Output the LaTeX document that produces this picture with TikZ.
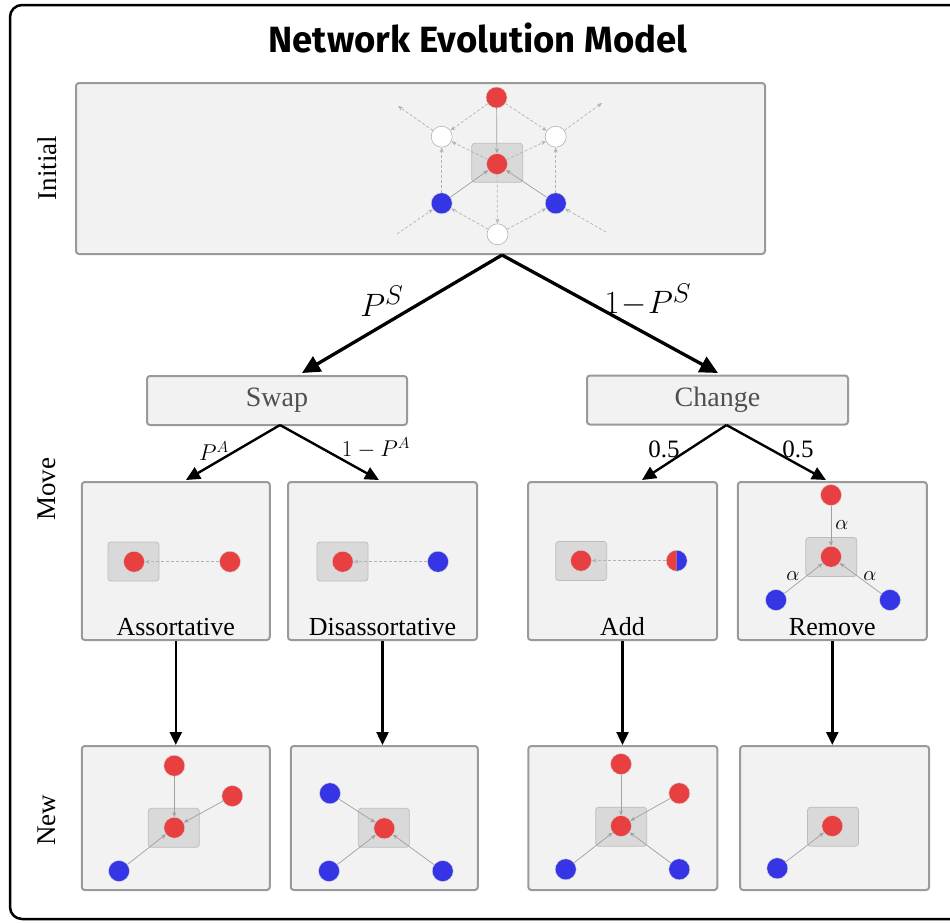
\documentclass[tikz,border=0pt]{standalone}
\usepackage{fontspec}
\setmainfont{Liberation Serif}
\newfontfamily\titlefont{Fira Sans}
\usetikzlibrary{arrows.meta}
\definecolor{nred}{HTML}{E84040}
\definecolor{nblue}{HTML}{3535E6}
\definecolor{panelfill}{HTML}{F2F2F2}
\definecolor{paneldraw}{HTML}{9A9A9A}
\definecolor{boxfill}{HTML}{D9D9D9}
\definecolor{boxdraw}{HTML}{BDBDBD}
\definecolor{edgegray}{HTML}{A0A0A0}
\definecolor{labgray}{HTML}{505050}
\begin{document}
\begin{tikzpicture}[x=1pt,y=-1pt,
  panel/.style={draw=paneldraw, fill=panelfill, line width=2pt, rounded corners=3pt, inner sep=0pt},
  ctr/.style={draw=boxdraw, fill=boxfill, line width=0.8pt, rounded corners=3pt, minimum width=51pt, minimum height=39pt, inner sep=0pt},
  vnode/.style={circle, draw=black!15, line width=0.4pt, minimum size=21pt, inner sep=0pt},
  rnode/.style={vnode, fill=nred},
  bnode/.style={vnode, fill=nblue},
  hnode/.style={circle, fill=white, draw=black!30, line width=0.6pt, minimum size=21pt, inner sep=0pt},
  sedge/.style={draw=edgegray, line width=0.7pt, -{Stealth[length=5pt,width=4pt]}},
  dedge/.style={sedge, draw=edgegray!80, dash pattern=on 3pt off 2pt},
  bigarrow/.style={line width=3.3pt, -{Triangle[length=18pt,width=17pt]}},
  midarrow/.style={line width=2.4pt, -{Triangle[length=14pt,width=13pt]}},
  downarrow/.style={line width=2.4pt, -{Triangle[length=13pt,width=12pt]}},
  rowlab/.style={rotate=90, font=\fontsize{27}{30}\selectfont},
  boxlab/.style={font=\fontsize{28}{32}\selectfont, text=labgray},
  panlab/.style={font=\fontsize{26}{30}\selectfont, anchor=base},
  plab/.style={font=\fontsize{24.88}{28}\selectfont, scale=1.3},
  slab/.style={font=\fontsize{20.74}{24}\selectfont, scale=1.1},
  hlab/.style={font=\fontsize{25}{28}\selectfont},
  alab/.style={font=\fontsize{20.74}{22}\selectfont}
]
\useasboundingbox (0,0) rectangle (950,922);
\draw[line width=2.5pt, rounded corners=12pt] (10,5) rectangle (964,919);

\node[font=\titlefont\bfseries\fontsize{36.5}{40}\selectfont] (title) at (478,38) {Network Evolution Model};

% row labels
\node[rowlab] (linit) at (47,168) {Initial};
\node[rowlab] (lmove) at (47,489) {Move};
\node[rowlab] (lnew) at (47,820) {New};

% ---------- Initial panel ----------
\node[panel, minimum width=689pt, minimum height=171pt] (init) at (420.5,168.5) {};
\node[ctr] (ibox) at (497.2,162.8) {};
\node[rnode] (itop) at (496.5,97.5) {};
\node[hnode] (ihl) at (441.7,136.7) {};
\node[hnode] (ihr) at (555.7,136.7) {};
\node[rnode] (ic) at (497,164) {};
\node[bnode] (ibl) at (441.7,203.3) {};
\node[bnode] (ibr) at (555.7,203.3) {};
\node[hnode] (ihb) at (497.5,234.3) {};
\coordinate (ofl) at (398,106);
\coordinate (ofr) at (602,103);
\coordinate (obl) at (397,234);
\coordinate (obr) at (606,232);
\draw[sedge] (itop) -- (ic);
\draw[sedge] (ibl) -- (ic);
\draw[sedge] (ibr) -- (ic);
\draw[dedge] (itop) -- (ihl);
\draw[dedge] (itop) -- (ihr);
\draw[dedge] (ihl) -- (ofl);
\draw[dedge] (ihr) -- (ofr);
\draw[dedge] (ic) -- (ihl);
\draw[dedge] (ic) -- (ihr);
\draw[dedge] (ibl) -- (ihl);
\draw[dedge] (ibr) -- (ihr);
\draw[dedge] (ic) -- (ihb);
\draw[dedge] (ihb) -- (ibl);
\draw[dedge] (ihb) -- (ibr);
\draw[dedge] (obl) -- (ibl);
\draw[dedge] (obr) -- (ibr);

% ---------- Swap / Change ----------
\node[panel, minimum width=260pt, minimum height=49pt, boxlab] (swap) at (277,400.5) {Swap};
\node[panel, minimum width=261pt, minimum height=49pt, boxlab] (change) at (717.5,400) {Change};
\coordinate (split) at (502,255);
\coordinate (tswap) at (302,373);
\coordinate (tchange) at (718,373);
\draw[bigarrow] (split) -- (tswap);
\draw[bigarrow] (split) -- (tchange);
\node[plab] (lps) at (382,301) {$P^S$};
\node[plab] (l1ps) at (648,300) {$1\!-\!P^S$};

% ---------- Move panels ----------
\node[panel, minimum width=188pt, minimum height=158pt] (assort) at (175.8,561) {};
\node[panel, minimum width=189pt, minimum height=158pt] (disass) at (382.5,561) {};
\node[panel, minimum width=189pt, minimum height=158pt] (add) at (622.5,561) {};
\node[panel, minimum width=189pt, minimum height=158pt] (remove) at (832.3,561) {};

\coordinate (sswap) at (280,425);
\coordinate (schange) at (726.5,425);
\coordinate (ta) at (186,480);
\coordinate (td) at (379,480);
\coordinate (tad) at (642,480);
\coordinate (tre) at (826,480);
\draw[midarrow] (sswap) -- (ta);
\draw[midarrow] (sswap) -- (td);
\draw[midarrow] (schange) -- (tad);
\draw[midarrow] (schange) -- (tre);
\node[slab] (lpa) at (214,451) {$P^A$};
\node[slab] (l1pa) at (376,448) {$1-P^A$};
\node[hlab] (lh1) at (664,449) {0.5};
\node[hlab] (lh2) at (798,449) {0.5};

% Assortative
\node[ctr] (abox) at (133.5,561.5) {};
\node[rnode] (ac) at (134,561.7) {};
\node[rnode] (ar) at (230,561.7) {};
\draw[dedge] (ar) -- (ac);
\node[panlab] (labA) at (175.8,635) {Assortative};

% Disassortative
\node[ctr] (dbox) at (342.5,561.5) {};
\node[rnode] (dc) at (342.7,561.7) {};
\node[bnode] (dr) at (438,561.7) {};
\draw[dedge] (dr) -- (dc);
\node[panlab] (labD) at (382.5,635) {Disassortative};

% Add
\node[ctr] (adbox) at (581.2,561) {};
\node[rnode] (adc) at (581,560.7) {};
\begin{scope}
  \clip (665,548) rectangle (676.7,574);
  \fill[nred] (676.7,560.7) circle (10.5pt);
\end{scope}
\begin{scope}
  \clip (676.7,548) rectangle (690,574);
  \fill[nblue] (676.7,560.7) circle (10.5pt);
\end{scope}
\node[vnode] (adr) at (676.7,560.7) {};
\draw[dedge] (adr) -- (adc);
\node[panlab] (labAd) at (622.5,635) {Add};

% Remove
\node[ctr] (rbox) at (831.3,557) {};
\node[rnode] (rtop) at (831,495) {};
\node[rnode] (rc) at (831,556.7) {};
\node[bnode] (rbl) at (776,600) {};
\node[bnode] (rbr) at (890,600) {};
\draw[sedge] (rtop) -- (rc);
\draw[sedge] (rbl) -- (rc);
\draw[sedge] (rbr) -- (rc);
\node[alab] (al1) at (842,525) {$\alpha$};
\node[alab] (al2) at (793,576) {$\alpha$};
\node[alab] (al3) at (870,576) {$\alpha$};
\node[panlab] (labR) at (832.3,635) {Remove};

% ---------- New panels ----------
\node[panel, minimum width=188pt, minimum height=144pt] (new1) at (175.8,818) {};
\node[panel, minimum width=187pt, minimum height=144pt] (new2) at (384.3,818) {};
\node[panel, minimum width=189pt, minimum height=144pt] (new3) at (622.8,818) {};
\node[panel, minimum width=189pt, minimum height=144pt] (new4) at (834.6,818) {};

\draw[downarrow] (assort.south) -- (assort.south |- new1.north);
\draw[downarrow] (disass.south) -- (disass.south |- new2.north);
\draw[downarrow] (add.south) -- (add.south |- new3.north);
\draw[downarrow] (remove.south) -- (remove.south |- new4.north);

% New 1
\node[ctr] (n1box) at (173.8,827.8) {};
\node[rnode] (n1top) at (174.3,765.7) {};
\node[rnode] (n1r) at (232.3,796) {};
\node[rnode] (n1c) at (174.3,827.7) {};
\node[bnode] (n1b) at (119,871) {};
\draw[sedge] (n1top) -- (n1c);
\draw[sedge] (n1r) -- (n1c);
\draw[sedge] (n1b) -- (n1c);

% New 2
\node[ctr] (n2box) at (383.8,827.8) {};
\node[bnode] (n2tl) at (330,793.3) {};
\node[rnode] (n2c) at (384.3,828.3) {};
\node[bnode] (n2bl) at (329,871) {};
\node[bnode] (n2br) at (442.7,871) {};
\draw[sedge] (n2tl) -- (n2c);
\draw[sedge] (n2bl) -- (n2c);
\draw[sedge] (n2br) -- (n2c);

% New 3
\node[ctr] (n3box) at (621.2,826.7) {};
\node[rnode] (n3top) at (621,764) {};
\node[rnode] (n3r) at (679.3,793.3) {};
\node[rnode] (n3c) at (621,826) {};
\node[bnode] (n3bl) at (565.7,869.3) {};
\node[bnode] (n3br) at (679.3,869.3) {};
\draw[sedge] (n3top) -- (n3c);
\draw[sedge] (n3r) -- (n3c);
\draw[sedge] (n3bl) -- (n3c);
\draw[sedge] (n3br) -- (n3c);

% New 4
\node[ctr] (n4box) at (833,826.7) {};
\node[rnode] (n4c) at (832.3,826) {};
\node[bnode] (n4b) at (777.3,868.3) {};
\draw[sedge] (n4b) -- (n4c);
\end{tikzpicture}
\end{document}
